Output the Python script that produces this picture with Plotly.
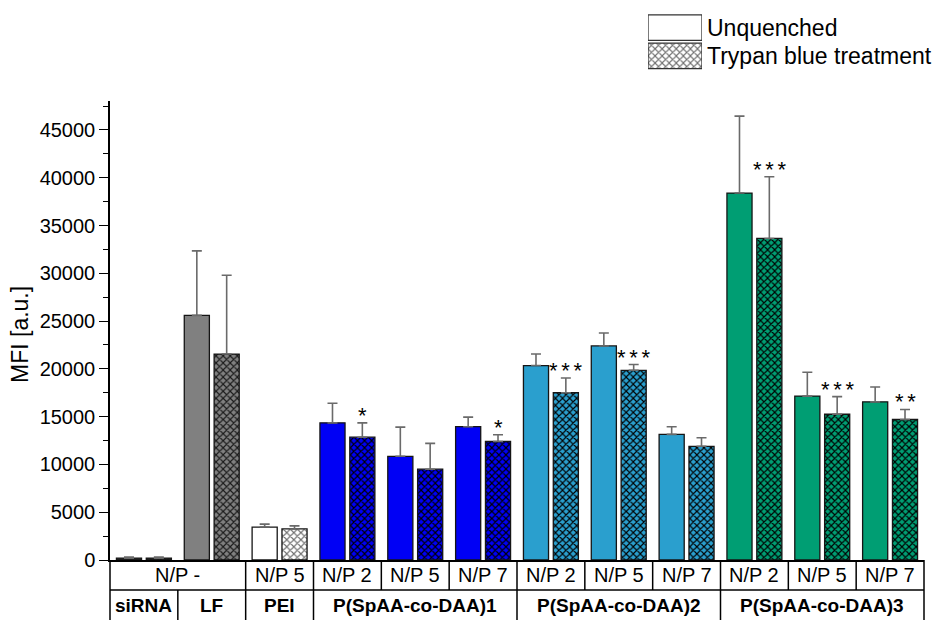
import plotly.graph_objects as go

# ---------------- data ----------------
slots = list(range(12))
row1_labels = ["N/P -", "N/P 5", "N/P 2", "N/P 5", "N/P 7", "N/P 2", "N/P 5", "N/P 7",
               "N/P 2", "N/P 5", "N/P 7"]
row1_spans = [(0, 2), (2, 3), (3, 4), (4, 5), (5, 6), (6, 7), (7, 8), (8, 9),
              (9, 10), (10, 11), (11, 12)]
row2_labels = ["siRNA", "LF", "PEI", "P(SpAA-co-DAA)1", "P(SpAA-co-DAA)2", "P(SpAA-co-DAA)3"]
row2_spans = [(0, 1), (1, 2), (2, 3), (3, 6), (6, 9), (9, 12)]

unquenched = [200, 25600, 3450, 14350, 10850, 13950, 20350, 22400, 13150, 38400, 17150, 16550]
unquenched_err = [100, 6750, 300, 2050, 3050, 1000, 1200, 1350, 800, 8050, 2500, 1550]
treated = [200, 21550, 3250, 12850, 9500, 12400, 17500, 19850, 11900, 33650, 15250, 14700]
treated_err = [100, 8250, 320, 1500, 2700, 700, 1550, 600, 900, 6450, 1850, 1050]
significance = ["", "", "", "*", "", "*", "***", "***", "", "***", "***", "**"]

slot_group = [0, 1, 2, 3, 3, 3, 4, 4, 4, 5, 5, 5]
group_colors = ["#333333", "#808080", "#FFFFFF", "#0000F5", "#2A9FCE", "#009E73"]
group_hatch = ["#111111", "#1a1a1a", "#707070", "#000000", "#000000", "#000000"]

legend_labels = ["Unquenched", "Trypan blue treatment"]

FONT = "Liberation Sans, Arial, sans-serif"
BAR_W = 0.37
OFF_U = -0.405
OFF_T = 0.035

# page is offset by the default 8px body margin, so the layout is 8px smaller
W, HT = 936, 612
ML, MR, MT, MB = 102, 20, 0, 60
PW = W - ML - MR          # plot width in px
H = HT - MT - MB          # plot height in px

fig = go.Figure()

for g, (col, hat) in enumerate(zip(group_colors, group_hatch)):
    idx = [i for i in slots if slot_group[i] == g]
    fig.add_trace(go.Bar(
        x=[slots[i] for i in idx], y=[unquenched[i] for i in idx],
        width=BAR_W, offset=OFF_U,
        marker=dict(color=col, line=dict(color="#151515", width=1.3)),
        error_y=dict(type="data", array=[unquenched_err[i] for i in idx],
                     arrayminus=[0] * len(idx), symmetric=False,
                     color="#6a6a6a", thickness=1.6, width=5),
        showlegend=False, hoverinfo="skip",
    ))
    fig.add_trace(go.Bar(
        x=[slots[i] for i in idx], y=[treated[i] for i in idx],
        width=BAR_W, offset=OFF_T,
        marker=dict(color=col, line=dict(color="#151515", width=1.3),
                    pattern=dict(shape="x", fgcolor=hat, bgcolor=col,
                                 fillmode="replace", size=5, solidity=0.4)),
        error_y=dict(type="data", array=[treated_err[i] for i in idx],
                     arrayminus=[0] * len(idx), symmetric=False,
                     color="#6a6a6a", thickness=1.6, width=5),
        showlegend=False, hoverinfo="skip",
    ))

# legend swatches drawn as bars on a small helper axis
fig.add_trace(go.Bar(
    x=[1], y=[1], orientation="h", width=0.9, base=0,
    marker=dict(color="#FFFFFF", line=dict(color="#333333", width=1.3)),
    xaxis="x2", yaxis="y2", showlegend=False, hoverinfo="skip",
))
fig.add_trace(go.Bar(
    x=[1], y=[0], orientation="h", width=0.9, base=0,
    marker=dict(color="#FFFFFF", line=dict(color="#333333", width=1.3),
                pattern=dict(shape="x", fgcolor="#707070", bgcolor="#FFFFFF",
                             fillmode="replace", size=5, solidity=0.4)),
    xaxis="x2", yaxis="y2", showlegend=False, hoverinfo="skip",
))

annotations = []
shapes = []

# legend labels
for i, lab in enumerate(legend_labels):
    annotations.append(dict(text=lab, xref="paper", yref="y2", x=(697 - ML) / PW, y=1 - i,
                            xanchor="left", yanchor="middle", showarrow=False,
                            font=dict(size=23, color="black", family=FONT)))

# y-axis title
annotations.append(dict(text="MFI [a.u.]", xref="paper", yref="paper",
                        x=-(ML - 12) / PW, y=(H - 327) / H, textangle=-90,
                        xanchor="center", yanchor="middle", showarrow=False,
                        font=dict(size=23, color="black", family=FONT)))

# significance marks over treated bars
for s, t, e, sig in zip(slots, treated, treated_err, significance):
    if sig:
        annotations.append(dict(text="\u2006".join(sig), xref="x", yref="y",
                                x=s + OFF_T + BAR_W / 2, y=t + e,
                                xanchor="center", yanchor="bottom", yshift=-7,
                                showarrow=False,
                                font=dict(size=22, color="black", family=FONT)))

# table under the axis
def px(b):
    return b / 12.0

row_h = 30.0 / H
for (a, b), lab in zip(row1_spans, row1_labels):
    annotations.append(dict(text=lab, xref="paper", yref="paper", x=px((a + b) / 2), y=-row_h / 2,
                            xanchor="center", yanchor="middle", showarrow=False,
                            font=dict(size=20, color="black", family=FONT)))
for (a, b), lab in zip(row2_spans, row2_labels):
    annotations.append(dict(text="<b>" + lab + "</b>", xref="paper", yref="paper",
                            x=px((a + b) / 2), y=-1.5 * row_h,
                            xanchor="center", yanchor="middle", showarrow=False,
                            font=dict(size=19, color="black", family=FONT)))

line_style = dict(color="black", width=1.5)
shapes.append(dict(type="line", xref="paper", yref="paper", x0=0, x1=1, y0=-row_h, y1=-row_h,
                   line=line_style))
row1_bounds = sorted(set([a for a, b in row1_spans] + [b for a, b in row1_spans]))
for b in row1_bounds:
    shapes.append(dict(type="line", xref="paper", yref="paper", x0=px(b), x1=px(b),
                       y0=0, y1=-row_h, line=line_style))
row2_bounds = sorted(set([a for a, b in row2_spans] + [b for a, b in row2_spans]))
for b in row2_bounds:
    shapes.append(dict(type="line", xref="paper", yref="paper", x0=px(b), x1=px(b),
                       y0=-row_h, y1=-2 * row_h - 0.01, line=line_style))

fig.update_layout(
    width=W, height=HT,
    margin=dict(l=ML, r=MR, t=MT, b=MB, autoexpand=False),
    paper_bgcolor="white", plot_bgcolor="white",
    font=dict(family=FONT, color="black"),
    barmode="overlay",
    xaxis=dict(range=[-0.5, 11.5], showticklabels=False, ticks="", showgrid=False,
               zeroline=False, showline=True, linecolor="black", linewidth=1.5,
               fixedrange=True),
    yaxis=dict(domain=[0, (H - 93.3) / H], range=[0, 48000],
               tickvals=list(range(0, 45001, 5000)), tickformat="d",
               ticks="outside", ticklen=9, tickwidth=1.3, tickcolor="black",
               minor=dict(dtick=2500, ticks="outside", ticklen=5, tickwidth=1.3,
                          tickcolor="black", showgrid=False),
               showgrid=False, zeroline=False, showline=True, linecolor="black",
               linewidth=1.5, tickfont=dict(size=20, family=FONT, color="black"),
               fixedrange=True),
    xaxis2=dict(domain=[(640 - ML) / PW, (694 - ML) / PW], range=[0, 1],
                anchor="y2", visible=False, fixedrange=True),
    yaxis2=dict(domain=[(H - 62) / H, (H - 5.5) / H], range=[-0.5, 1.5],
                anchor="x2", visible=False, fixedrange=True),
    annotations=annotations,
    shapes=shapes,
)

fig.write_html("out.html")
